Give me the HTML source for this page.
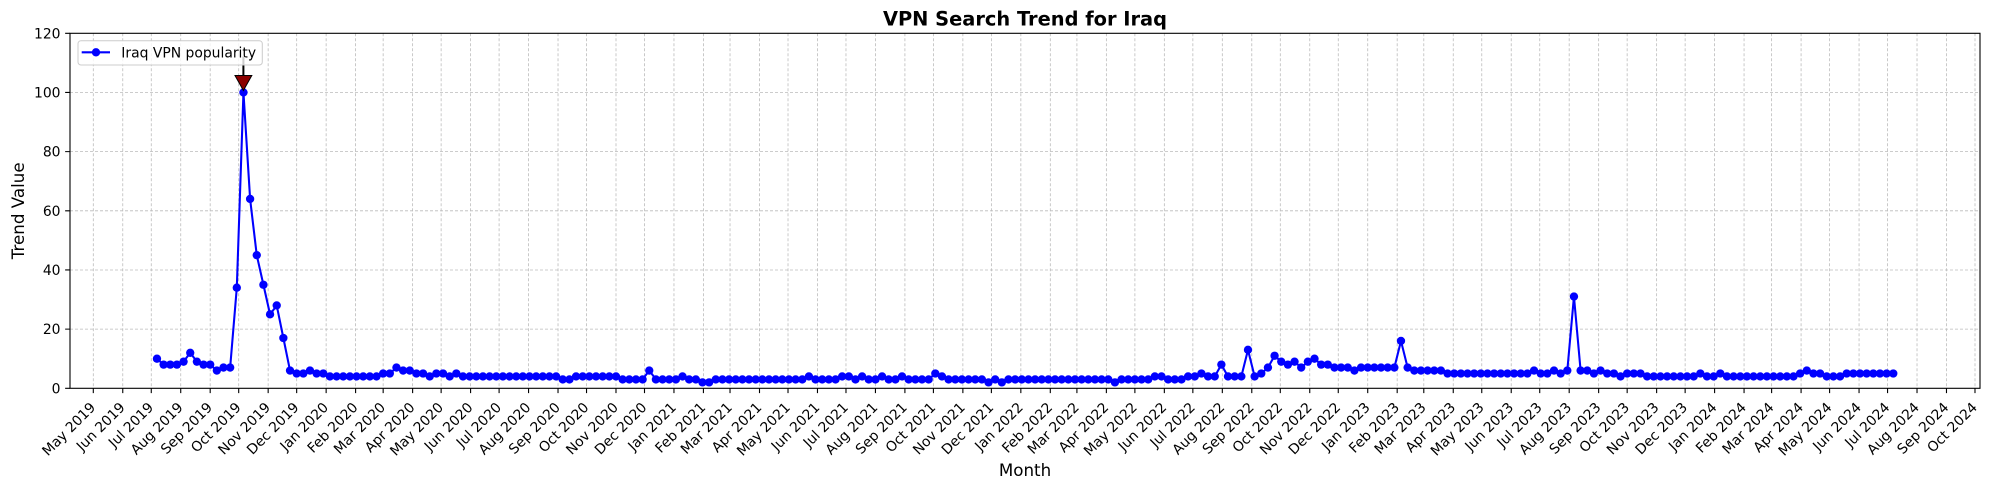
<!DOCTYPE html>
<html><head><meta charset="utf-8"><style>
html,body{margin:0;padding:0;background:#fff}
svg{display:block;font-family:"DejaVu Sans","Liberation Sans",sans-serif}
.xl text{font-size:13.9px;text-anchor:end}
</style></head><body>
<svg width="1990" height="490" viewBox="0 0 1990 490" xmlns="http://www.w3.org/2000/svg">
<rect width="1990" height="490" fill="#fff"/>
<defs><ellipse id="m" cx="0" cy="0" rx="0.6268" ry="1.4096" fill="#0000ff"/></defs>
<!-- grid -->
<g stroke="#b0b0b0" stroke-width="0.8" stroke-dasharray="3 2" fill="none" opacity="0.85">
<path d="M70 329.13H1980M70 269.97H1980M70 210.8H1980M70 151.63H1980M70 92.47H1980"/>
<path d="M93.3 33.3V388.3M122.76 33.3V388.3M151.27 33.3V388.3M180.73 33.3V388.3M210.19 33.3V388.3M238.7 33.3V388.3M268.16 33.3V388.3M296.67 33.3V388.3M326.14 33.3V388.3M355.6 33.3V388.3M383.16 33.3V388.3M412.62 33.3V388.3M441.13 33.3V388.3M470.59 33.3V388.3M499.1 33.3V388.3M528.56 33.3V388.3M558.02 33.3V388.3M586.53 33.3V388.3M615.99 33.3V388.3M644.5 33.3V388.3M673.96 33.3V388.3M703.42 33.3V388.3M730.03 33.3V388.3M759.5 33.3V388.3M788.01 33.3V388.3M817.47 33.3V388.3M845.98 33.3V388.3M875.44 33.3V388.3M904.9 33.3V388.3M933.41 33.3V388.3M962.87 33.3V388.3M991.38 33.3V388.3M1020.84 33.3V388.3M1050.3 33.3V388.3M1076.91 33.3V388.3M1106.37 33.3V388.3M1134.88 33.3V388.3M1164.34 33.3V388.3M1192.85 33.3V388.3M1222.32 33.3V388.3M1251.78 33.3V388.3M1280.29 33.3V388.3M1309.75 33.3V388.3M1338.26 33.3V388.3M1367.72 33.3V388.3M1397.18 33.3V388.3M1423.79 33.3V388.3M1453.25 33.3V388.3M1481.76 33.3V388.3M1511.22 33.3V388.3M1539.73 33.3V388.3M1569.19 33.3V388.3M1598.65 33.3V388.3M1627.16 33.3V388.3M1656.63 33.3V388.3M1685.14 33.3V388.3M1714.6 33.3V388.3M1744.06 33.3V388.3M1771.62 33.3V388.3M1801.08 33.3V388.3M1829.59 33.3V388.3M1859.05 33.3V388.3M1887.56 33.3V388.3M1917.02 33.3V388.3M1946.48 33.3V388.3M1974.99 33.3V388.3"/>
</g>
<!-- data -->
<g transform="translate(156.97,388.3) scale(6.6525,-2.95833)">
<polyline fill="none" stroke="#0000ff" stroke-width="2.08" stroke-linejoin="round" vector-effect="non-scaling-stroke" points="0,10 1,8 2,8 3,8 4,9 5,12 6,9 7,8 8,8 9,6 10,7 11,7 12,34 13,100 14,64 15,45 16,35 17,25 18,28 19,17 20,6 21,5 22,5 23,6 24,5 25,5 26,4 27,4 28,4 29,4 30,4 31,4 32,4 33,4 34,5 35,5 36,7 37,6 38,6 39,5 40,5 41,4 42,5 43,5 44,4 45,5 46,4 47,4 48,4 49,4 50,4 51,4 52,4 53,4 54,4 55,4 56,4 57,4 58,4 59,4 60,4 61,3 62,3 63,4 64,4 65,4 66,4 67,4 68,4 69,4 70,3 71,3 72,3 73,3 74,6 75,3 76,3 77,3 78,3 79,4 80,3 81,3 82,2 83,2 84,3 85,3 86,3 87,3 88,3 89,3 90,3 91,3 92,3 93,3 94,3 95,3 96,3 97,3 98,4 99,3 100,3 101,3 102,3 103,4 104,4 105,3 106,4 107,3 108,3 109,4 110,3 111,3 112,4 113,3 114,3 115,3 116,3 117,5 118,4 119,3 120,3 121,3 122,3 123,3 124,3 125,2 126,3 127,2 128,3 129,3 130,3 131,3 132,3 133,3 134,3 135,3 136,3 137,3 138,3 139,3 140,3 141,3 142,3 143,3 144,2 145,3 146,3 147,3 148,3 149,3 150,4 151,4 152,3 153,3 154,3 155,4 156,4 157,5 158,4 159,4 160,8 161,4 162,4 163,4 164,13 165,4 166,5 167,7 168,11 169,9 170,8 171,9 172,7 173,9 174,10 175,8 176,8 177,7 178,7 179,7 180,6 181,7 182,7 183,7 184,7 185,7 186,7 187,16 188,7 189,6 190,6 191,6 192,6 193,6 194,5 195,5 196,5 197,5 198,5 199,5 200,5 201,5 202,5 203,5 204,5 205,5 206,5 207,6 208,5 209,5 210,6 211,5 212,6 213,31 214,6 215,6 216,5 217,6 218,5 219,5 220,4 221,5 222,5 223,5 224,4 225,4 226,4 227,4 228,4 229,4 230,4 231,4 232,5 233,4 234,4 235,5 236,4 237,4 238,4 239,4 240,4 241,4 242,4 243,4 244,4 245,4 246,4 247,5 248,6 249,5 250,5 251,4 252,4 253,4 254,5 255,5 256,5 257,5 258,5 259,5 260,5 261,5"/>
<use href="#m" x="0" y="10"/><use href="#m" x="1" y="8"/><use href="#m" x="2" y="8"/><use href="#m" x="3" y="8"/><use href="#m" x="4" y="9"/><use href="#m" x="5" y="12"/><use href="#m" x="6" y="9"/><use href="#m" x="7" y="8"/><use href="#m" x="8" y="8"/><use href="#m" x="9" y="6"/>
<use href="#m" x="10" y="7"/><use href="#m" x="11" y="7"/><use href="#m" x="12" y="34"/><use href="#m" x="13" y="100"/><use href="#m" x="14" y="64"/><use href="#m" x="15" y="45"/><use href="#m" x="16" y="35"/><use href="#m" x="17" y="25"/><use href="#m" x="18" y="28"/><use href="#m" x="19" y="17"/>
<use href="#m" x="20" y="6"/><use href="#m" x="21" y="5"/><use href="#m" x="22" y="5"/><use href="#m" x="23" y="6"/><use href="#m" x="24" y="5"/><use href="#m" x="25" y="5"/><use href="#m" x="26" y="4"/><use href="#m" x="27" y="4"/><use href="#m" x="28" y="4"/><use href="#m" x="29" y="4"/>
<use href="#m" x="30" y="4"/><use href="#m" x="31" y="4"/><use href="#m" x="32" y="4"/><use href="#m" x="33" y="4"/><use href="#m" x="34" y="5"/><use href="#m" x="35" y="5"/><use href="#m" x="36" y="7"/><use href="#m" x="37" y="6"/><use href="#m" x="38" y="6"/><use href="#m" x="39" y="5"/>
<use href="#m" x="40" y="5"/><use href="#m" x="41" y="4"/><use href="#m" x="42" y="5"/><use href="#m" x="43" y="5"/><use href="#m" x="44" y="4"/><use href="#m" x="45" y="5"/><use href="#m" x="46" y="4"/><use href="#m" x="47" y="4"/><use href="#m" x="48" y="4"/><use href="#m" x="49" y="4"/>
<use href="#m" x="50" y="4"/><use href="#m" x="51" y="4"/><use href="#m" x="52" y="4"/><use href="#m" x="53" y="4"/><use href="#m" x="54" y="4"/><use href="#m" x="55" y="4"/><use href="#m" x="56" y="4"/><use href="#m" x="57" y="4"/><use href="#m" x="58" y="4"/><use href="#m" x="59" y="4"/>
<use href="#m" x="60" y="4"/><use href="#m" x="61" y="3"/><use href="#m" x="62" y="3"/><use href="#m" x="63" y="4"/><use href="#m" x="64" y="4"/><use href="#m" x="65" y="4"/><use href="#m" x="66" y="4"/><use href="#m" x="67" y="4"/><use href="#m" x="68" y="4"/><use href="#m" x="69" y="4"/>
<use href="#m" x="70" y="3"/><use href="#m" x="71" y="3"/><use href="#m" x="72" y="3"/><use href="#m" x="73" y="3"/><use href="#m" x="74" y="6"/><use href="#m" x="75" y="3"/><use href="#m" x="76" y="3"/><use href="#m" x="77" y="3"/><use href="#m" x="78" y="3"/><use href="#m" x="79" y="4"/>
<use href="#m" x="80" y="3"/><use href="#m" x="81" y="3"/><use href="#m" x="82" y="2"/><use href="#m" x="83" y="2"/><use href="#m" x="84" y="3"/><use href="#m" x="85" y="3"/><use href="#m" x="86" y="3"/><use href="#m" x="87" y="3"/><use href="#m" x="88" y="3"/><use href="#m" x="89" y="3"/>
<use href="#m" x="90" y="3"/><use href="#m" x="91" y="3"/><use href="#m" x="92" y="3"/><use href="#m" x="93" y="3"/><use href="#m" x="94" y="3"/><use href="#m" x="95" y="3"/><use href="#m" x="96" y="3"/><use href="#m" x="97" y="3"/><use href="#m" x="98" y="4"/><use href="#m" x="99" y="3"/>
<use href="#m" x="100" y="3"/><use href="#m" x="101" y="3"/><use href="#m" x="102" y="3"/><use href="#m" x="103" y="4"/><use href="#m" x="104" y="4"/><use href="#m" x="105" y="3"/><use href="#m" x="106" y="4"/><use href="#m" x="107" y="3"/><use href="#m" x="108" y="3"/><use href="#m" x="109" y="4"/>
<use href="#m" x="110" y="3"/><use href="#m" x="111" y="3"/><use href="#m" x="112" y="4"/><use href="#m" x="113" y="3"/><use href="#m" x="114" y="3"/><use href="#m" x="115" y="3"/><use href="#m" x="116" y="3"/><use href="#m" x="117" y="5"/><use href="#m" x="118" y="4"/><use href="#m" x="119" y="3"/>
<use href="#m" x="120" y="3"/><use href="#m" x="121" y="3"/><use href="#m" x="122" y="3"/><use href="#m" x="123" y="3"/><use href="#m" x="124" y="3"/><use href="#m" x="125" y="2"/><use href="#m" x="126" y="3"/><use href="#m" x="127" y="2"/><use href="#m" x="128" y="3"/><use href="#m" x="129" y="3"/>
<use href="#m" x="130" y="3"/><use href="#m" x="131" y="3"/><use href="#m" x="132" y="3"/><use href="#m" x="133" y="3"/><use href="#m" x="134" y="3"/><use href="#m" x="135" y="3"/><use href="#m" x="136" y="3"/><use href="#m" x="137" y="3"/><use href="#m" x="138" y="3"/><use href="#m" x="139" y="3"/>
<use href="#m" x="140" y="3"/><use href="#m" x="141" y="3"/><use href="#m" x="142" y="3"/><use href="#m" x="143" y="3"/><use href="#m" x="144" y="2"/><use href="#m" x="145" y="3"/><use href="#m" x="146" y="3"/><use href="#m" x="147" y="3"/><use href="#m" x="148" y="3"/><use href="#m" x="149" y="3"/>
<use href="#m" x="150" y="4"/><use href="#m" x="151" y="4"/><use href="#m" x="152" y="3"/><use href="#m" x="153" y="3"/><use href="#m" x="154" y="3"/><use href="#m" x="155" y="4"/><use href="#m" x="156" y="4"/><use href="#m" x="157" y="5"/><use href="#m" x="158" y="4"/><use href="#m" x="159" y="4"/>
<use href="#m" x="160" y="8"/><use href="#m" x="161" y="4"/><use href="#m" x="162" y="4"/><use href="#m" x="163" y="4"/><use href="#m" x="164" y="13"/><use href="#m" x="165" y="4"/><use href="#m" x="166" y="5"/><use href="#m" x="167" y="7"/><use href="#m" x="168" y="11"/><use href="#m" x="169" y="9"/>
<use href="#m" x="170" y="8"/><use href="#m" x="171" y="9"/><use href="#m" x="172" y="7"/><use href="#m" x="173" y="9"/><use href="#m" x="174" y="10"/><use href="#m" x="175" y="8"/><use href="#m" x="176" y="8"/><use href="#m" x="177" y="7"/><use href="#m" x="178" y="7"/><use href="#m" x="179" y="7"/>
<use href="#m" x="180" y="6"/><use href="#m" x="181" y="7"/><use href="#m" x="182" y="7"/><use href="#m" x="183" y="7"/><use href="#m" x="184" y="7"/><use href="#m" x="185" y="7"/><use href="#m" x="186" y="7"/><use href="#m" x="187" y="16"/><use href="#m" x="188" y="7"/><use href="#m" x="189" y="6"/>
<use href="#m" x="190" y="6"/><use href="#m" x="191" y="6"/><use href="#m" x="192" y="6"/><use href="#m" x="193" y="6"/><use href="#m" x="194" y="5"/><use href="#m" x="195" y="5"/><use href="#m" x="196" y="5"/><use href="#m" x="197" y="5"/><use href="#m" x="198" y="5"/><use href="#m" x="199" y="5"/>
<use href="#m" x="200" y="5"/><use href="#m" x="201" y="5"/><use href="#m" x="202" y="5"/><use href="#m" x="203" y="5"/><use href="#m" x="204" y="5"/><use href="#m" x="205" y="5"/><use href="#m" x="206" y="5"/><use href="#m" x="207" y="6"/><use href="#m" x="208" y="5"/><use href="#m" x="209" y="5"/>
<use href="#m" x="210" y="6"/><use href="#m" x="211" y="5"/><use href="#m" x="212" y="6"/><use href="#m" x="213" y="31"/><use href="#m" x="214" y="6"/><use href="#m" x="215" y="6"/><use href="#m" x="216" y="5"/><use href="#m" x="217" y="6"/><use href="#m" x="218" y="5"/><use href="#m" x="219" y="5"/>
<use href="#m" x="220" y="4"/><use href="#m" x="221" y="5"/><use href="#m" x="222" y="5"/><use href="#m" x="223" y="5"/><use href="#m" x="224" y="4"/><use href="#m" x="225" y="4"/><use href="#m" x="226" y="4"/><use href="#m" x="227" y="4"/><use href="#m" x="228" y="4"/><use href="#m" x="229" y="4"/>
<use href="#m" x="230" y="4"/><use href="#m" x="231" y="4"/><use href="#m" x="232" y="5"/><use href="#m" x="233" y="4"/><use href="#m" x="234" y="4"/><use href="#m" x="235" y="5"/><use href="#m" x="236" y="4"/><use href="#m" x="237" y="4"/><use href="#m" x="238" y="4"/><use href="#m" x="239" y="4"/>
<use href="#m" x="240" y="4"/><use href="#m" x="241" y="4"/><use href="#m" x="242" y="4"/><use href="#m" x="243" y="4"/><use href="#m" x="244" y="4"/><use href="#m" x="245" y="4"/><use href="#m" x="246" y="4"/><use href="#m" x="247" y="5"/><use href="#m" x="248" y="6"/><use href="#m" x="249" y="5"/>
<use href="#m" x="250" y="5"/><use href="#m" x="251" y="4"/><use href="#m" x="252" y="4"/><use href="#m" x="253" y="4"/><use href="#m" x="254" y="5"/><use href="#m" x="255" y="5"/><use href="#m" x="256" y="5"/><use href="#m" x="257" y="5"/><use href="#m" x="258" y="5"/><use href="#m" x="259" y="5"/>
<use href="#m" x="260" y="5"/><use href="#m" x="261" y="5"/>
</g>
<!-- annotation arrow -->
<line x1="243.4" y1="56.5" x2="243.4" y2="76" stroke="#000" stroke-width="2"/>
<polygon points="235,75.5 251.8,75.5 243.4,90.5" fill="#8b0000" stroke="#000" stroke-width="1"/>
<!-- legend -->
<rect x="78" y="40.7" width="184.3" height="24.3" rx="3" ry="3" fill="#fff" fill-opacity="0.8" stroke="#cccccc" stroke-width="1"/>
<line x1="81.7" y1="52.3" x2="110" y2="52.3" stroke="#0000ff" stroke-width="2.08"/>
<circle cx="96" cy="52.3" r="4.17" fill="#0000ff"/>
<text x="121.3" y="57.3" font-size="13.9" fill="#000">Iraq VPN popularity</text>
<!-- spines -->
<rect x="70" y="33.3" width="1910" height="355" fill="none" stroke="#000" stroke-width="1.1"/>
<!-- ticks -->
<g stroke="#000" stroke-width="1.1">
<path d="M65.14 388.3H70M65.14 329.13H70M65.14 269.97H70M65.14 210.8H70M65.14 151.63H70M65.14 92.47H70M65.14 33.3H70"/>
<path d="M93.3 388.3v4.86M122.76 388.3v4.86M151.27 388.3v4.86M180.73 388.3v4.86M210.19 388.3v4.86M238.7 388.3v4.86M268.16 388.3v4.86M296.67 388.3v4.86M326.14 388.3v4.86M355.6 388.3v4.86M383.16 388.3v4.86M412.62 388.3v4.86M441.13 388.3v4.86M470.59 388.3v4.86M499.1 388.3v4.86M528.56 388.3v4.86M558.02 388.3v4.86M586.53 388.3v4.86M615.99 388.3v4.86M644.5 388.3v4.86M673.96 388.3v4.86M703.42 388.3v4.86M730.03 388.3v4.86M759.5 388.3v4.86M788.01 388.3v4.86M817.47 388.3v4.86M845.98 388.3v4.86M875.44 388.3v4.86M904.9 388.3v4.86M933.41 388.3v4.86M962.87 388.3v4.86M991.38 388.3v4.86M1020.84 388.3v4.86M1050.3 388.3v4.86M1076.91 388.3v4.86M1106.37 388.3v4.86M1134.88 388.3v4.86M1164.34 388.3v4.86M1192.85 388.3v4.86M1222.32 388.3v4.86M1251.78 388.3v4.86M1280.29 388.3v4.86M1309.75 388.3v4.86M1338.26 388.3v4.86M1367.72 388.3v4.86M1397.18 388.3v4.86M1423.79 388.3v4.86M1453.25 388.3v4.86M1481.76 388.3v4.86M1511.22 388.3v4.86M1539.73 388.3v4.86M1569.19 388.3v4.86M1598.65 388.3v4.86M1627.16 388.3v4.86M1656.63 388.3v4.86M1685.14 388.3v4.86M1714.6 388.3v4.86M1744.06 388.3v4.86M1771.62 388.3v4.86M1801.08 388.3v4.86M1829.59 388.3v4.86M1859.05 388.3v4.86M1887.56 388.3v4.86M1917.02 388.3v4.86M1946.48 388.3v4.86M1974.99 388.3v4.86"/>
</g>
<!-- y tick labels -->
<g font-size="13.9" text-anchor="end" fill="#000">
<text x="60.5" y="393.3">0</text>
<text x="60.5" y="334.1">20</text>
<text x="60.5" y="275">40</text>
<text x="60.5" y="215.8">60</text>
<text x="60.5" y="156.6">80</text>
<text x="60.5" y="97.5">100</text>
<text x="60.5" y="38.3">120</text>
</g>
<!-- x tick labels -->
<g class="xl" fill="#000">
<text transform="translate(96.3,408.2) rotate(-45)">May 2019</text>
<text transform="translate(125.76,408.2) rotate(-45)">Jun 2019</text>
<text transform="translate(154.27,408.2) rotate(-45)">Jul 2019</text>
<text transform="translate(183.73,408.2) rotate(-45)">Aug 2019</text>
<text transform="translate(213.19,408.2) rotate(-45)">Sep 2019</text>
<text transform="translate(241.7,408.2) rotate(-45)">Oct 2019</text>
<text transform="translate(271.16,408.2) rotate(-45)">Nov 2019</text>
<text transform="translate(299.67,408.2) rotate(-45)">Dec 2019</text>
<text transform="translate(329.14,408.2) rotate(-45)">Jan 2020</text>
<text transform="translate(358.6,408.2) rotate(-45)">Feb 2020</text>
<text transform="translate(386.16,408.2) rotate(-45)">Mar 2020</text>
<text transform="translate(415.62,408.2) rotate(-45)">Apr 2020</text>
<text transform="translate(444.13,408.2) rotate(-45)">May 2020</text>
<text transform="translate(473.59,408.2) rotate(-45)">Jun 2020</text>
<text transform="translate(502.1,408.2) rotate(-45)">Jul 2020</text>
<text transform="translate(531.56,408.2) rotate(-45)">Aug 2020</text>
<text transform="translate(561.02,408.2) rotate(-45)">Sep 2020</text>
<text transform="translate(589.53,408.2) rotate(-45)">Oct 2020</text>
<text transform="translate(618.99,408.2) rotate(-45)">Nov 2020</text>
<text transform="translate(647.5,408.2) rotate(-45)">Dec 2020</text>
<text transform="translate(676.96,408.2) rotate(-45)">Jan 2021</text>
<text transform="translate(706.42,408.2) rotate(-45)">Feb 2021</text>
<text transform="translate(733.03,408.2) rotate(-45)">Mar 2021</text>
<text transform="translate(762.5,408.2) rotate(-45)">Apr 2021</text>
<text transform="translate(791.01,408.2) rotate(-45)">May 2021</text>
<text transform="translate(820.47,408.2) rotate(-45)">Jun 2021</text>
<text transform="translate(848.98,408.2) rotate(-45)">Jul 2021</text>
<text transform="translate(878.44,408.2) rotate(-45)">Aug 2021</text>
<text transform="translate(907.9,408.2) rotate(-45)">Sep 2021</text>
<text transform="translate(936.41,408.2) rotate(-45)">Oct 2021</text>
<text transform="translate(965.87,408.2) rotate(-45)">Nov 2021</text>
<text transform="translate(994.38,408.2) rotate(-45)">Dec 2021</text>
<text transform="translate(1023.84,408.2) rotate(-45)">Jan 2022</text>
<text transform="translate(1053.3,408.2) rotate(-45)">Feb 2022</text>
<text transform="translate(1079.91,408.2) rotate(-45)">Mar 2022</text>
<text transform="translate(1109.37,408.2) rotate(-45)">Apr 2022</text>
<text transform="translate(1137.88,408.2) rotate(-45)">May 2022</text>
<text transform="translate(1167.34,408.2) rotate(-45)">Jun 2022</text>
<text transform="translate(1195.85,408.2) rotate(-45)">Jul 2022</text>
<text transform="translate(1225.32,408.2) rotate(-45)">Aug 2022</text>
<text transform="translate(1254.78,408.2) rotate(-45)">Sep 2022</text>
<text transform="translate(1283.29,408.2) rotate(-45)">Oct 2022</text>
<text transform="translate(1312.75,408.2) rotate(-45)">Nov 2022</text>
<text transform="translate(1341.26,408.2) rotate(-45)">Dec 2022</text>
<text transform="translate(1370.72,408.2) rotate(-45)">Jan 2023</text>
<text transform="translate(1400.18,408.2) rotate(-45)">Feb 2023</text>
<text transform="translate(1426.79,408.2) rotate(-45)">Mar 2023</text>
<text transform="translate(1456.25,408.2) rotate(-45)">Apr 2023</text>
<text transform="translate(1484.76,408.2) rotate(-45)">May 2023</text>
<text transform="translate(1514.22,408.2) rotate(-45)">Jun 2023</text>
<text transform="translate(1542.73,408.2) rotate(-45)">Jul 2023</text>
<text transform="translate(1572.19,408.2) rotate(-45)">Aug 2023</text>
<text transform="translate(1601.65,408.2) rotate(-45)">Sep 2023</text>
<text transform="translate(1630.16,408.2) rotate(-45)">Oct 2023</text>
<text transform="translate(1659.63,408.2) rotate(-45)">Nov 2023</text>
<text transform="translate(1688.14,408.2) rotate(-45)">Dec 2023</text>
<text transform="translate(1717.6,408.2) rotate(-45)">Jan 2024</text>
<text transform="translate(1747.06,408.2) rotate(-45)">Feb 2024</text>
<text transform="translate(1774.62,408.2) rotate(-45)">Mar 2024</text>
<text transform="translate(1804.08,408.2) rotate(-45)">Apr 2024</text>
<text transform="translate(1832.59,408.2) rotate(-45)">May 2024</text>
<text transform="translate(1862.05,408.2) rotate(-45)">Jun 2024</text>
<text transform="translate(1890.56,408.2) rotate(-45)">Jul 2024</text>
<text transform="translate(1920.02,408.2) rotate(-45)">Aug 2024</text>
<text transform="translate(1949.48,408.2) rotate(-45)">Sep 2024</text>
<text transform="translate(1977.99,408.2) rotate(-45)">Oct 2024</text>
</g>
<!-- axis labels & title -->
<text x="1025" y="476" font-size="16.7" text-anchor="middle" fill="#000">Month</text>
<text transform="translate(23.8,210.8) rotate(-90)" font-size="16.7" text-anchor="middle" fill="#000">Trend Value</text>
<text x="1025" y="25.7" font-size="19.4" font-weight="bold" text-anchor="middle" fill="#000">VPN Search Trend for Iraq</text>
</svg>
</body></html>
